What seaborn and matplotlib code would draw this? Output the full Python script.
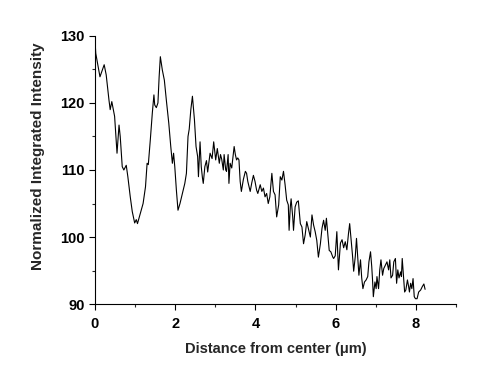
import numpy as np
import pandas as pd
import matplotlib
matplotlib.use("Agg")
import matplotlib.pyplot as plt
from matplotlib.ticker import MultipleLocator
import seaborn as sns

# distance from center (um) and normalized intensity
distance = [
    0.00, 0.02, 0.125, 0.23, 0.28, 0.35, 0.38, 0.42, 0.49, 0.55, 0.60, 0.63,
    0.68, 0.72, 0.78, 0.82, 0.88, 0.93, 0.99, 1.03, 1.06, 1.12, 1.20, 1.26,
    1.30, 1.33, 1.38, 1.43, 1.47, 1.49, 1.53, 1.57, 1.60, 1.63, 1.68, 1.73,
    1.78, 1.84, 1.89, 1.93, 1.96, 1.99, 2.03, 2.07, 2.12, 2.18, 2.24, 2.28,
    2.32, 2.35, 2.39, 2.43, 2.48, 2.52, 2.56, 2.58, 2.62, 2.65, 2.68, 2.70,
    2.74, 2.78, 2.81, 2.87, 2.92, 2.96, 3.01, 3.05, 3.10, 3.13, 3.16, 3.20,
    3.22, 3.26, 3.28, 3.32, 3.34, 3.37, 3.41, 3.45, 3.47, 3.50, 3.53, 3.56,
    3.59, 3.62, 3.65, 3.70, 3.75, 3.78, 3.81, 3.87, 3.91, 3.95, 3.99, 4.03,
    4.06, 4.12, 4.16, 4.20, 4.24, 4.28, 4.32, 4.36, 4.41, 4.45, 4.49, 4.53,
    4.58, 4.62, 4.66, 4.70, 4.74, 4.78, 4.82, 4.84, 4.87, 4.89, 4.93, 4.95,
    4.99, 5.03, 5.07, 5.12, 5.16, 5.20, 5.24, 5.28, 5.32, 5.37, 5.41, 5.45,
    5.49, 5.53, 5.57, 5.62, 5.66, 5.70, 5.74, 5.77, 5.81, 5.84, 5.88, 5.93,
    5.95, 5.99, 6.03, 6.07, 6.12, 6.16, 6.20, 6.24, 6.28, 6.32, 6.35, 6.38,
    6.42, 6.45, 6.49, 6.52, 6.55, 6.58, 6.62, 6.65, 6.68, 6.72, 6.76, 6.80,
    6.83, 6.87, 6.90, 6.92, 6.94, 6.98, 7.01, 7.03, 7.07, 7.10, 7.13, 7.17,
    7.20, 7.24, 7.28, 7.32, 7.35, 7.38, 7.42, 7.45, 7.49, 7.52, 7.55, 7.58,
    7.62, 7.64, 7.66, 7.69, 7.72, 7.75, 7.79, 7.82, 7.84, 7.87, 7.90, 7.93,
    7.96, 7.99, 8.03, 8.07, 8.12, 8.16, 8.20, 8.23,
]
intensity = [
    129.5, 127.4, 123.9, 125.7, 124.2, 120.4, 119.0, 120.2, 118.0, 112.5, 116.7, 115.0,
    110.5, 110.0, 110.7, 109.0, 106.0, 103.8, 102.1, 102.6, 102.0, 103.3, 105.0, 107.5,
    111.0, 110.8, 114.5, 118.5, 121.2, 119.7, 119.3, 120.0, 123.9, 126.9, 124.9, 123.4,
    120.4, 117.0, 113.5, 111.0, 112.5, 110.5, 107.0, 104.0, 105.0, 106.5, 108.0, 109.5,
    115.0, 116.1, 119.0, 121.0, 117.5, 113.5, 112.0, 109.0, 114.2, 110.5, 108.8, 108.0,
    110.5, 111.4, 109.7, 112.5, 111.7, 114.2, 111.5, 113.2, 111.0, 112.3, 111.6, 110.0,
    112.3, 110.0, 109.8, 112.3, 108.0, 111.0, 110.3, 112.5, 113.5, 112.3, 111.5, 111.8,
    111.5, 108.3, 106.8, 108.6, 109.8, 109.5, 108.3, 106.8, 108.1, 109.2, 108.3, 107.0,
    106.5, 107.8, 106.8, 107.3, 106.0, 106.5, 105.0, 106.0, 109.5, 106.8, 106.3, 103.0,
    104.8, 109.0, 108.5, 109.8, 107.8, 105.5, 104.8, 101.0, 104.5, 105.7, 103.0, 101.0,
    104.5, 105.2, 105.4, 102.0, 101.5, 99.0, 100.3, 102.3, 101.3, 100.0, 103.3, 101.8,
    100.8, 99.5, 97.0, 99.0, 101.3, 102.5, 101.0, 102.8, 100.0, 98.0, 97.8, 97.0,
    96.8, 97.2, 100.8, 95.1, 99.1, 99.6, 98.4, 99.3, 98.1, 100.5, 102.0, 100.0,
    97.3, 94.9, 97.1, 99.8, 97.1, 94.3, 96.6, 93.9, 92.3, 93.3, 93.6, 94.1,
    96.3, 97.8, 95.6, 93.6, 91.1, 93.3, 92.3, 94.1, 92.3, 95.1, 96.6, 94.3,
    95.3, 95.8, 96.3, 95.1, 96.6, 93.9, 94.3, 96.3, 96.8, 93.1, 95.1, 93.9,
    94.8, 94.1, 96.8, 94.3, 91.8, 92.1, 93.6, 92.6, 91.8, 93.1, 92.3, 93.8,
    91.1, 90.8, 90.8, 91.8, 92.1, 92.6, 93.0, 92.2,
]

df = pd.DataFrame({"distance": distance, "intensity": intensity})

sns.set_style("ticks")
plt.rcParams["font.family"] = ["Liberation Sans", "DejaVu Sans"]
plt.rcParams["font.weight"] = "bold"

fig = plt.figure(figsize=(4.82, 3.82), dpi=100)
ax = fig.add_axes([0.197, 0.204, 0.749, 0.702])

sns.lineplot(data=df, x="distance", y="intensity", ax=ax, color="black",
             linewidth=0.8, sort=False, estimator=None)

ax.set_xlim(0, 9)
ax.set_ylim(90, 130)
ax.xaxis.set_major_locator(MultipleLocator(2))
ax.xaxis.set_minor_locator(MultipleLocator(1))
ax.yaxis.set_major_locator(MultipleLocator(10))
ax.yaxis.set_minor_locator(MultipleLocator(5))
ax.tick_params(which="major", direction="out", length=4, width=0.8,
               labelsize=10.5, colors="black")
ax.tick_params(axis="x", which="major", pad=5)
ax.tick_params(which="minor", direction="out", length=2.5, width=0.8)
for lbl in ax.get_xticklabels() + ax.get_yticklabels():
    lbl.set_fontweight("bold")

ax.set_xlabel("Distance from center (\u03bcm)", fontsize=10.5, fontweight="bold")
ax.set_ylabel("Normalized Integrated Intensity", fontsize=11, fontweight="bold")
ax.xaxis.set_label_coords(0.5, -0.14)
ax.yaxis.set_label_coords(-0.138, 0.55)

for side in ["top", "right"]:
    ax.spines[side].set_visible(False)
for side in ["left", "bottom"]:
    ax.spines[side].set_linewidth(0.8)
    ax.spines[side].set_color("black")

fig.savefig("out.png", dpi=100)
